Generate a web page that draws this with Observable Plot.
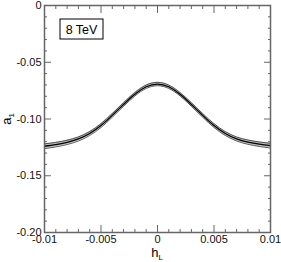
<!DOCTYPE html>
<html>
<head>
<meta charset="utf-8">
<script src="https://cdn.jsdelivr.net/npm/d3@7"></script>
<script src="https://cdn.jsdelivr.net/npm/@observablehq/plot@0.6"></script>
<style>
  html, body { margin: 0; padding: 0; background: #fff; }
  #chart { width: 281px; height: 262px; }
</style>
</head>
<body>
<div id="chart"></div>
<script>
const hL = [-0.010, -0.009, -0.008, -0.007, -0.006, -0.005, -0.004, -0.003, -0.002, -0.001, 0.000,
            0.001, 0.002, 0.003, 0.004, 0.005, 0.006, 0.007, 0.008, 0.009, 0.010];
const a1 = [-0.1240, -0.1226, -0.1206, -0.1176, -0.1128, -0.1058, -0.0968, -0.0872, -0.0782, -0.0716, -0.0692,
            -0.0716, -0.0782, -0.0872, -0.0968, -0.1058, -0.1128, -0.1176, -0.1204, -0.1222, -0.1235];
const a1Err = [0.0021, 0.0020, 0.0019, 0.0018, 0.0017, 0.0017, 0.0016, 0.0016, 0.0015, 0.0015, 0.0015,
               0.0015, 0.0015, 0.0016, 0.0016, 0.0017, 0.0017, 0.0018, 0.0019, 0.0020, 0.0021];

const xMajor = [-0.01, -0.005, 0, 0.005, 0.01];
const xLabels = ["-0.01", "-0.005", "0", "0.005", "0.01"];
const xMinor = [-0.009, -0.008, -0.007, -0.006, -0.004, -0.003, -0.002, -0.001,
                0.001, 0.002, 0.003, 0.004, 0.006, 0.007, 0.008, 0.009];
const yMajor = [0, -0.05, -0.10, -0.15, -0.20];
const yLabels = ["0", "-0.05", "-0.10", "-0.15", "-0.20"];
const yMinor = [-0.01, -0.02, -0.03, -0.04, -0.06, -0.07, -0.08, -0.09, -0.11, -0.12, -0.13, -0.14,
                -0.16, -0.17, -0.18, -0.19];
const annotation = "8 TeV";

const data = hL.map((h, i) => ({h, a: a1[i], e: a1Err[i]}));
const axisColor = "#666";

const tickAxes = [];
for (const anchor of ["left", "right"]) {
  tickAxes.push(Plot.axisY(yMinor, {anchor, label: null, tickSize: -3, tickFormat: () => "", stroke: axisColor}));
  tickAxes.push(Plot.axisY(yMajor, {anchor, label: null, tickSize: -7, tickFormat: () => "", stroke: axisColor}));
}
for (const anchor of ["top", "bottom"]) {
  tickAxes.push(Plot.axisX(xMinor, {anchor, label: null, tickSize: -3, tickFormat: () => "", stroke: axisColor}));
  tickAxes.push(Plot.axisX(xMajor, {anchor, label: null, tickSize: -7, tickFormat: () => "", stroke: axisColor}));
}

const chart = Plot.plot({
  width: 281,
  height: 262,
  marginLeft: 44,
  marginRight: 11,
  marginTop: 5,
  marginBottom: 30,
  x: {domain: [-0.01, 0.01], label: null},
  y: {domain: [-0.2, 0], label: null},
  style: {fontFamily: "'Liberation Sans', Arial, sans-serif", fontSize: "11px", color: "#000", background: "#fff", overflow: "visible"},
  marks: [
    Plot.areaY(data, {x: "h", y1: d => d.a - d.e, y2: d => d.a + d.e, fill: "#a0a0a0", fillOpacity: 0.7, curve: "natural"}),
    Plot.lineY(data, {x: "h", y: d => d.a + d.e, stroke: "#333", strokeWidth: 0.8, curve: "natural"}),
    Plot.lineY(data, {x: "h", y: d => d.a - d.e, stroke: "#333", strokeWidth: 0.8, curve: "natural"}),
    Plot.lineY(data, {x: "h", y: "a", stroke: "#000", strokeWidth: 1.3, curve: "natural"}),
    ...tickAxes,
    Plot.frame({stroke: axisColor, strokeWidth: 1.5}),
    Plot.axisY(yMajor, {anchor: "left", label: null, tickSize: 0, tickPadding: 3, tickFormat: d => yLabels[yMajor.indexOf(d)], fill: "#111"}),
    Plot.axisX(xMajor, {anchor: "bottom", label: null, tickSize: 0, tickPadding: 3, tickFormat: d => xLabels[xMajor.indexOf(d)], fill: "#111"})
  ]
});

document.getElementById("chart").appendChild(chart);

const svg = d3.select(chart);
const font = "'Liberation Sans', Arial, sans-serif";
// annotation box
svg.append("rect").attr("x", 60).attr("y", 19).attr("width", 43).attr("height", 20)
  .attr("fill", "#fff").attr("stroke", "#000").attr("stroke-width", 1);
svg.append("text").attr("x", 81.5).attr("y", 33.5).attr("text-anchor", "middle")
  .attr("font-family", font).attr("font-size", 12.5).attr("fill", "#000").text(annotation);
// x axis title h_L
const xt = svg.append("text").attr("x", 157).attr("y", 257).attr("text-anchor", "middle")
  .attr("font-family", font).attr("font-size", 13).attr("fill", "#000");
xt.append("tspan").text("h");
xt.append("tspan").attr("font-size", 8).attr("dy", 3).text("L");
// y axis title a_1
const yt = svg.append("text").attr("transform", "translate(11,119) rotate(-90)").attr("text-anchor", "middle")
  .attr("font-family", font).attr("font-size", 13).attr("fill", "#000");
yt.append("tspan").text("a");
yt.append("tspan").attr("font-size", 8).attr("dy", 3).text("1");
</script>
</body>
</html>
